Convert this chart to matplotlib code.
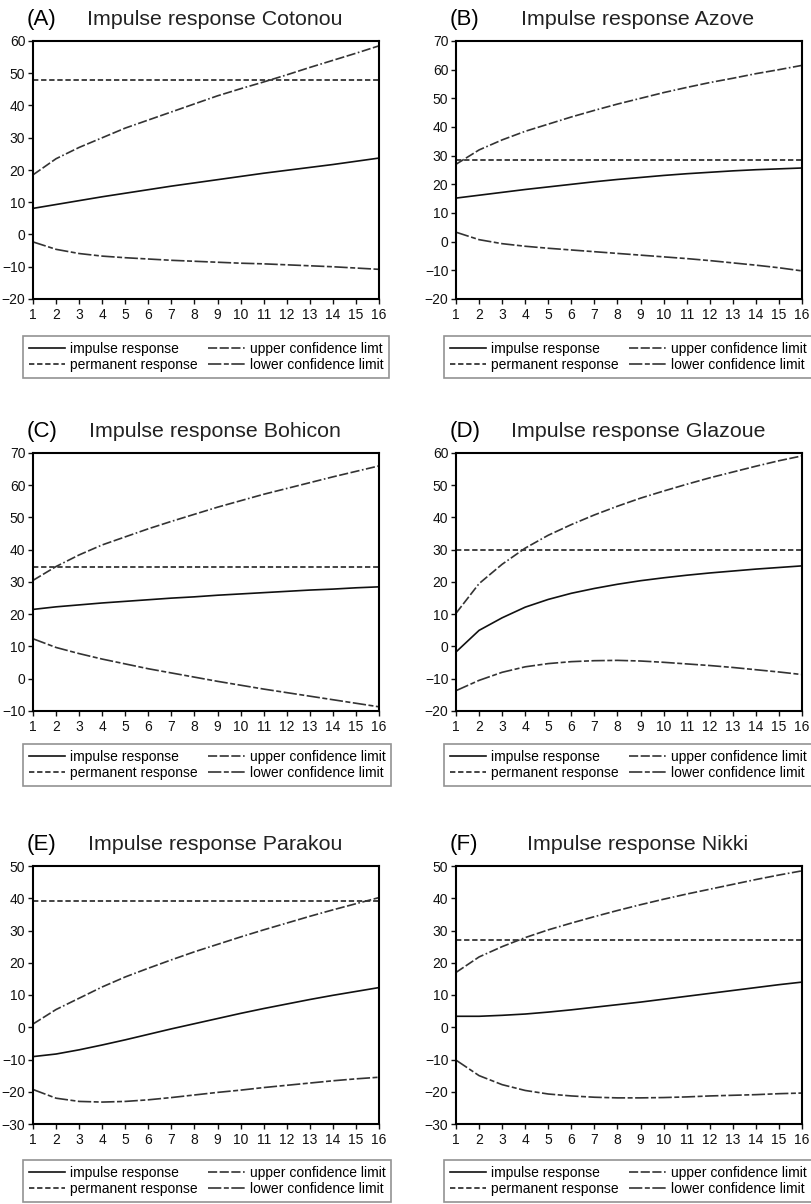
import numpy as np
import matplotlib.pyplot as plt
from matplotlib.lines import Line2D

plt.rcParams['font.family'] = ['Liberation Sans', 'DejaVu Sans']

# 数据
t = np.arange(1, 17)

panels = ['(A)', '(B)', '(C)', '(D)', '(E)', '(F)']
towns = ['Cotonou', 'Azove', 'Bohicon', 'Glazoue', 'Parakou', 'Nikki']
ylims = [(-20, 60), (-20, 70), (-10, 70), (-20, 60), (-30, 50), (-30, 50)]
permanent = [48.0, 28.5, 34.7, 30.0, 39.2, 27.0]
upper_labels = ['upper confidence limt', 'upper confidence limit', 'upper confidence limit',
                'upper confidence limit', 'upper confidence limit', 'upper confidence limit']

impulse_cotonou = [8.1, 9.3, 10.5, 11.7, 12.8, 13.9, 15.0, 16.0, 17.0, 18.0, 19.0, 19.9, 20.8, 21.7, 22.7, 23.7]
upper_cotonou = [18.5, 23.5, 27.0, 30.0, 33.0, 35.5, 38.0, 40.5, 43.0, 45.2, 47.3, 49.5, 51.8, 54.0, 56.2, 58.5]
lower_cotonou = [-2.3, -4.6, -5.9, -6.7, -7.2, -7.6, -8.0, -8.3, -8.6, -8.9, -9.1, -9.4, -9.7, -10.0, -10.4, -10.8]

impulse_azove = [15.2, 16.2, 17.2, 18.2, 19.1, 20.0, 20.9, 21.7, 22.4, 23.1, 23.7, 24.2, 24.7, 25.1, 25.4, 25.7]
upper_azove = [27.0, 32.0, 35.5, 38.5, 41.0, 43.5, 45.8, 48.0, 50.0, 52.0, 53.8, 55.5, 57.0, 58.6, 60.0, 61.5]
lower_azove = [3.3, 0.7, -0.7, -1.6, -2.3, -2.9, -3.5, -4.1, -4.7, -5.3, -5.9, -6.6, -7.4, -8.2, -9.1, -10.2]

impulse_bohicon = [21.5, 22.3, 22.9, 23.5, 24.0, 24.5, 25.0, 25.4, 25.9, 26.3, 26.7, 27.1, 27.5, 27.8, 28.2, 28.5]
upper_bohicon = [30.5, 34.8, 38.4, 41.5, 44.0, 46.5, 48.8, 51.0, 53.2, 55.2, 57.2, 59.0, 60.8, 62.6, 64.3, 66.0]
lower_bohicon = [12.4, 9.7, 7.8, 6.1, 4.6, 3.1, 1.8, 0.5, -0.8, -2.0, -3.2, -4.3, -5.4, -6.5, -7.6, -8.7]

impulse_glazoue = [-1.7, 5.0, 8.9, 12.2, 14.6, 16.5, 18.0, 19.3, 20.4, 21.3, 22.1, 22.8, 23.4, 24.0, 24.5, 25.0]
upper_glazoue = [10.3, 19.5, 25.5, 30.5, 34.5, 37.8, 40.8, 43.5, 46.0, 48.2, 50.3, 52.3, 54.1, 55.9, 57.6, 59.1]
lower_glazoue = [-13.7, -10.5, -8.0, -6.3, -5.3, -4.7, -4.4, -4.3, -4.5, -4.9, -5.4, -5.9, -6.5, -7.2, -7.9, -8.7]

impulse_parakou = [-9.1, -8.3, -7.0, -5.5, -3.9, -2.2, -0.5, 1.1, 2.7, 4.3, 5.8, 7.2, 8.6, 9.9, 11.1, 12.3]
upper_parakou = [1.0, 5.5, 9.0, 12.5, 15.6, 18.3, 20.9, 23.4, 25.7, 28.0, 30.2, 32.3, 34.4, 36.4, 38.3, 40.2]
lower_parakou = [-19.3, -22.0, -23.0, -23.2, -23.0, -22.5, -21.8, -21.0, -20.2, -19.5, -18.7, -18.0, -17.3, -16.6, -16.0, -15.5]

impulse_nikki = [3.4, 3.4, 3.7, 4.1, 4.7, 5.4, 6.2, 7.0, 7.8, 8.7, 9.6, 10.5, 11.4, 12.3, 13.2, 14.0]
upper_nikki = [17.0, 21.8, 25.0, 27.8, 30.2, 32.3, 34.3, 36.2, 38.0, 39.7, 41.3, 42.8, 44.3, 45.8, 47.2, 48.5]
lower_nikki = [-10.2, -15.0, -17.8, -19.6, -20.7, -21.3, -21.7, -21.9, -21.9, -21.8, -21.6, -21.3, -21.1, -20.9, -20.6, -20.4]

impulses = [impulse_cotonou, impulse_azove, impulse_bohicon, impulse_glazoue, impulse_parakou, impulse_nikki]
uppers = [upper_cotonou, upper_azove, upper_bohicon, upper_glazoue, upper_parakou, upper_nikki]
lowers = [lower_cotonou, lower_azove, lower_bohicon, lower_glazoue, lower_parakou, lower_nikki]

# 线型
style_imp = dict(color='#111111', lw=1.2, linestyle='-')
style_perm = dict(color='#111111', lw=1.1, linestyle=(0, (3.5, 1.8)))
style_up = dict(color='#333333', lw=1.2, linestyle=(0, (5.5, 1.5, 5.5, 1.5, 5.5, 1.5, 1, 1.5)))
style_lo = dict(color='#333333', lw=1.2, linestyle=(0, (8, 1.5, 3, 1.5)))

W, H = 812, 1204
fig = plt.figure(figsize=(W / 100, H / 100), dpi=100)

lefts = [33, 456]
tops = [41, 453, 866]
leg_lefts = [23, 444]
leg_tops = [336, 744, 1160]
aw, ah = 346, 258

for i in range(6):
    r, c = divmod(i, 2)
    l, tp = lefts[c], tops[r]
    ax = fig.add_axes([l / W, 1 - (tp + ah) / H, aw / W, ah / H])

    ax.plot(t, impulses[i], **style_imp)
    ax.axhline(permanent[i], **style_perm)
    ax.plot(t, uppers[i], **style_up)
    ax.plot(t, lowers[i], **style_lo)

    ax.set_xlim(1, 16)
    ax.set_ylim(*ylims[i])
    ax.set_xticks(t)
    ax.set_yticks(np.arange(ylims[i][0], ylims[i][1] + 1, 10))
    ax.tick_params(direction='out', length=3.5, width=1, labelsize=10, colors='#111111')
    ax.tick_params(axis='x', pad=3)
    ax.tick_params(axis='y', pad=2)
    for s in ax.spines.values():
        s.set_linewidth(1.5)

    ax.text(-0.018, 1.085, panels[i], transform=ax.transAxes, fontsize=16,
            ha='left', va='center')
    ax.text(0.526, 1.085, 'Impulse response ' + towns[i], transform=ax.transAxes,
            fontsize=15.4, ha='center', va='center', color='#222222')

    handles = [Line2D([], [], **style_imp), Line2D([], [], **style_perm),
               Line2D([], [], **style_up), Line2D([], [], **style_lo)]
    labels = ['impulse response', 'permanent response',
              upper_labels[i], 'lower confidence limit']
    leg = fig.legend(handles, labels, ncol=2, loc='upper left',
                     bbox_to_anchor=(leg_lefts[c] / W, 1 - leg_tops[r] / H),
                     bbox_transform=fig.transFigure, borderaxespad=0,
                     fontsize=10, frameon=True, fancybox=False,
                     edgecolor='#777777', handlelength=2.6, handletextpad=0.36,
                     labelspacing=0.2, columnspacing=0.8, borderpad=0.4)
    leg.get_frame().set_linewidth(1.2)

fig.savefig('out.png', dpi=100)
plt.close(fig)
